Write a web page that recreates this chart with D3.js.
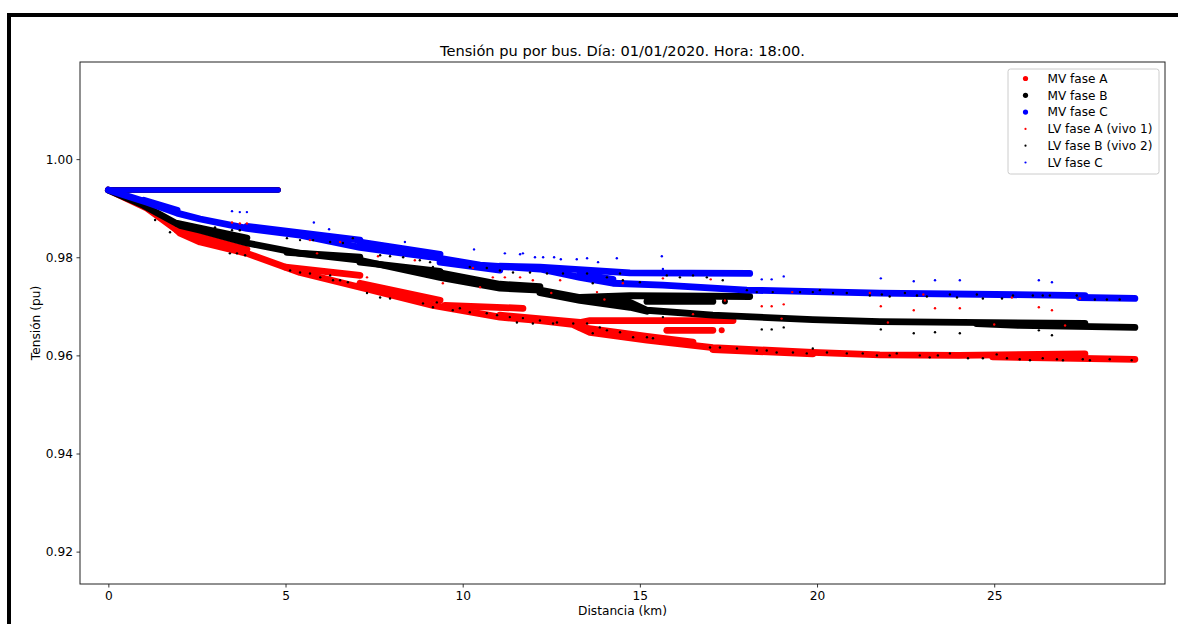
<!DOCTYPE html>
<html>
<head>
<meta charset="utf-8">
<script src="https://cdn.jsdelivr.net/npm/d3@7"></script>
<style>
  body { margin: 0; background: #fff; }
  svg text { font-family: "DejaVu Sans", sans-serif; fill: #000; }
</style>
</head>
<body>
<svg id="grafico" width="1178" height="624"></svg>
<script>
// ramas de la red MV: cada rama es una lista de [km, pu]
var mvFaseA = [
  [[0, 0.99375], [4.79, 0.99375]],
  [[0, 0.9937], [1.09, 0.99], [1.94, 0.9855], [2.02, 0.9849], [2.59, 0.9831], [3.91, 0.9808], [5.41, 0.9769], [7.1, 0.9739], [9.16, 0.9702], [11.05, 0.9678], [12.18, 0.9671], [13.1, 0.9663], [13.59, 0.9647], [15.2, 0.9631], [17.06, 0.9616], [19.88, 0.9606], [21.77, 0.9601], [24.0, 0.96], [27.56, 0.9603]],
  [[24.96, 0.9597], [28.97, 0.9592]],
  [[1.94, 0.9855], [3.91, 0.9816]],
  [[5.0, 0.978], [7.1, 0.9763]],
  [[7.1, 0.9747], [9.36, 0.9712]],
  [[9.5, 0.9702], [11.7, 0.9696]],
  [[11.05, 0.9682], [13.31, 0.9667], [13.59, 0.9671], [17.63, 0.9671]],
  [[13.31, 0.9657], [15.2, 0.9639], [16.5, 0.9627]],
  [[17.06, 0.9612], [19.88, 0.9603]],
  [[15.76, 0.9651], [17.06, 0.9651]]
];
var mvFaseB = [
  [[0, 0.99372], [4.79, 0.99372]],
  [[0, 0.9937], [0.98, 0.9906], [2.02, 0.9865], [2.59, 0.9855], [3.91, 0.9829], [5.41, 0.9808], [7.1, 0.9794], [9.36, 0.9759], [11.05, 0.9737], [12.18, 0.9733], [13.31, 0.9718], [14.72, 0.9708], [15.2, 0.9692], [17.06, 0.9682], [19.88, 0.9673], [21.77, 0.9669], [27.56, 0.9665]],
  [[24.5, 0.9665], [25.72, 0.9661], [28.97, 0.9657]],
  [[1.94, 0.9869], [3.91, 0.9839]],
  [[5.04, 0.981], [7.1, 0.98]],
  [[7.1, 0.979], [9.36, 0.9771]],
  [[9.36, 0.9768], [11.05, 0.9745], [12.18, 0.974]],
  [[12.18, 0.9728], [13.31, 0.9712], [14.72, 0.9698], [15.2, 0.969]],
  [[13.31, 0.9718], [14.72, 0.9722], [18.1, 0.972]],
  [[15.2, 0.971], [17.06, 0.971]]
];
var mvFaseC = [
  [[0, 0.9937], [4.79, 0.9937]],
  [[0, 0.9937], [1.09, 0.9912], [1.94, 0.989], [2.59, 0.9878], [3.91, 0.9859], [5.41, 0.9845], [7.1, 0.982], [9.36, 0.9798], [10.49, 0.9784], [12.18, 0.9776], [13.31, 0.9759], [14.24, 0.9747], [15.65, 0.9743], [18.02, 0.9733], [21.77, 0.9727], [27.56, 0.9722]],
  [[27.4, 0.9718], [28.97, 0.9716]],
  [[1.0, 0.9916], [1.94, 0.9896]],
  [[3.91, 0.9863], [7.1, 0.9835]],
  [[7.1, 0.9831], [9.36, 0.9806]],
  [[9.36, 0.979], [11.05, 0.9774]],
  [[11.05, 0.9782], [12.18, 0.978], [14.72, 0.9768], [18.1, 0.9767]],
  [[13.31, 0.9766], [14.24, 0.9755]]
];
// puntos MV sueltos
var mvSueltosA = [[17.31, 0.9651]];
var mvSueltosB = [[17.4, 0.971]];

// nodos LV
var lvFaseA = [
  [3.49, 0.9871], [3.71, 0.9869], [3.91, 0.9869], [5.69, 0.9835], [6.54, 0.9831], [7.61, 0.9802], [8.65, 0.9794],
  [10.29, 0.9778], [10.85, 0.9759], [11.19, 0.9759], [11.62, 0.9759], [11.98, 0.9753], [12.75, 0.9753], [13.79, 0.9729],
  [14.52, 0.9747], [15.65, 0.9757], [17.0, 0.9755], [19.3, 0.9729], [21.49, 0.9727], [23.0, 0.9724], [25.5, 0.9718], [27.42, 0.9716],
  [5.89, 0.9808], [7.3, 0.9759], [9.44, 0.9747], [10.49, 0.9739], [12.5, 0.9727], [14.0, 0.9714], [16.5, 0.9684],
  [19.0, 0.9675], [22.0, 0.9667], [25.0, 0.9663], [27.0, 0.9661],
  [17.4, 0.9712], [18.44, 0.97], [18.72, 0.97], [19.06, 0.9704], [21.8, 0.97], [22.73, 0.9692], [23.33, 0.9696],
  [24.03, 0.9696], [26.26, 0.9698], [26.63, 0.9692]
];
var lvFaseB = [
  [1.32, 0.9876], [1.74, 0.9851], [3.43, 0.9808], [3.63, 0.9808], [3.86, 0.9804], [5.13, 0.9773], [5.41, 0.9769],
  [5.69, 0.9767], [5.98, 0.9759], [6.26, 0.9763], [6.34, 0.9753], [6.54, 0.9753], [6.76, 0.9749], [7.3, 0.9727],
  [7.67, 0.9718], [7.95, 0.9716], [8.88, 0.9706], [9.16, 0.9698], [9.27, 0.9708], [9.72, 0.9692], [9.92, 0.9696],
  [10.2, 0.9688], [10.68, 0.9686], [10.97, 0.9682], [11.33, 0.9678], [11.53, 0.9667], [11.7, 0.9676], [11.98, 0.9665],
  [12.18, 0.9671], [12.55, 0.9665], [12.66, 0.9667], [13.12, 0.9665], [13.51, 0.9665], [13.67, 0.9645], [13.87, 0.9657],
  [14.07, 0.9651], [14.44, 0.9647], [14.81, 0.9637], [15.2, 0.9637], [15.37, 0.9635], [16.98, 0.9616], [17.26, 0.9616],
  [17.74, 0.9614], [18.3, 0.961], [18.58, 0.961], [18.86, 0.9606], [19.32, 0.9606], [19.71, 0.9604], [19.88, 0.9614],
  [20.28, 0.9606], [20.84, 0.9604], [21.29, 0.9604], [21.69, 0.96], [22.05, 0.96], [22.25, 0.9604], [22.9, 0.96],
  [23.18, 0.9596], [23.41, 0.96], [23.75, 0.9604], [24.26, 0.9594], [24.68, 0.9594], [25.07, 0.9602], [25.36, 0.9594],
  [25.72, 0.9592], [26.01, 0.959], [26.37, 0.9594], [26.77, 0.9592], [26.94, 0.959], [27.5, 0.9592], [27.7, 0.959],
  [28.26, 0.9592], [28.88, 0.959],
  [3.01, 0.9861], [3.49, 0.9855], [3.71, 0.9855], [5.04, 0.9839], [5.41, 0.9835], [5.78, 0.9835], [6.26, 0.9831],
  [6.62, 0.9829], [6.9, 0.9839], [7.67, 0.9804], [7.95, 0.9802], [8.32, 0.98], [8.79, 0.9794], [9.08, 0.979],
  [9.16, 0.978], [10.2, 0.978], [10.68, 0.9778], [11.05, 0.9773], [11.42, 0.9769], [11.9, 0.9769], [12.38, 0.9767],
  [12.83, 0.9767], [13.51, 0.9767], [13.67, 0.9747], [14.07, 0.9759], [14.44, 0.9767], [14.52, 0.9753], [15.0, 0.9749],
  [15.76, 0.9763], [16.13, 0.9759], [16.5, 0.9763], [16.89, 0.9759], [17.34, 0.9753], [18.02, 0.9733], [18.3, 0.9729],
  [18.75, 0.9729], [19.52, 0.9729], [19.88, 0.9729], [20.08, 0.9733], [20.45, 0.9727], [20.84, 0.9727], [21.49, 0.9722],
  [21.83, 0.9724], [22.05, 0.972], [22.48, 0.9727], [22.82, 0.9722], [23.1, 0.972], [23.75, 0.9724], [23.95, 0.9718],
  [24.51, 0.9724], [24.68, 0.9716], [25.22, 0.9716], [25.53, 0.9722], [26.09, 0.9722], [26.37, 0.9722], [26.57, 0.9722],
  [27.33, 0.9722], [27.84, 0.9714], [28.18, 0.9714], [28.54, 0.9714],
  [15.65, 0.9678], [18.44, 0.9653], [18.72, 0.9653], [19.06, 0.9657], [21.8, 0.9653], [22.73, 0.9645], [23.33, 0.9647],
  [24.03, 0.9645], [26.26, 0.9651], [26.63, 0.9641]
];
var lvFaseC = [
  [3.49, 0.9894], [3.71, 0.9892], [3.91, 0.9892], [5.8, 0.9871], [6.23, 0.9857], [8.37, 0.9831], [10.32, 0.9816],
  [11.19, 0.9808], [11.62, 0.9806], [11.7, 0.9808], [12.04, 0.98], [12.27, 0.98], [12.58, 0.98], [12.77, 0.9796],
  [13.22, 0.9796], [13.51, 0.9798], [13.82, 0.979], [14.35, 0.9798], [15.62, 0.9802], [15.65, 0.9776],
  [18.44, 0.9755], [18.72, 0.9755], [19.06, 0.9761], [21.8, 0.9757], [22.73, 0.9751], [23.33, 0.9753],
  [24.03, 0.9753], [26.26, 0.9753], [26.63, 0.9749]
];

var xTicks = [0, 5, 10, 15, 20, 25];
var yTicks = [0.92, 0.94, 0.96, 0.98, 1.0];
var nombres = ["MV fase A", "MV fase B", "MV fase C", "LV fase A (vivo 1)", "LV fase B (vivo 2)", "LV fase C"];
var colores = ["#ff0000", "#000000", "#0000ff", "#ff0000", "#000000", "#0000ff"];

var svg = d3.select("#grafico"),
  pLeft = 80, pRight = 1165, pTop = 62, pBottom = 584;

var x = d3.scaleLinear().domain([-0.8, 29.82]).range([pLeft, pRight]);
var y = d3.scaleLinear().domain([0.9134, 1.0198]).range([pBottom, pTop]);

// marco negro de la ventana
svg.append("path")
  .attr("d", "M9,624 L9,15 L1178,15")
  .attr("fill", "none")
  .attr("stroke", "#000")
  .attr("stroke-width", 4);

svg.append("defs").append("clipPath").attr("id", "zona")
  .append("rect")
  .attr("x", pLeft).attr("y", pTop)
  .attr("width", pRight - pLeft).attr("height", pBottom - pTop);

var plot = svg.append("g").attr("clip-path", "url(#zona)");

var line = d3.line()
  .x(function(d) { return x(d[0]); })
  .y(function(d) { return y(d[1]); });

function ramas(data, color) {
  plot.append("g")
    .selectAll("path")
    .data(data)
    .enter()
    .append("path")
    .attr("d", line)
    .attr("fill", "none")
    .attr("stroke", color)
    .attr("stroke-width", function(d, i) { return i === 0 ? 5.5 : 6.8; })
    .attr("stroke-linecap", "round")
    .attr("stroke-linejoin", "round");
}

function puntos(data, color, r) {
  plot.append("g")
    .selectAll("circle")
    .data(data)
    .enter()
    .append("circle")
    .attr("cx", function(d) { return x(d[0]); })
    .attr("cy", function(d) { return y(d[1]); })
    .attr("r", r)
    .attr("fill", color);
}

ramas(mvFaseA, colores[0]);
puntos(mvSueltosA, colores[0], 3);
ramas(mvFaseB, colores[1]);
puntos(mvSueltosB, colores[1], 3);
ramas(mvFaseC, colores[2]);
puntos(lvFaseA, colores[3], 1.2);
puntos(lvFaseB, colores[4], 1.2);
puntos(lvFaseC, colores[5], 1.2);

// ejes
var xAxis = svg.append("g")
  .attr("transform", "translate(0," + pBottom + ")")
  .call(d3.axisBottom(x).tickValues(xTicks).tickSize(3.5).tickPadding(3.5).tickFormat(d3.format("d")));
var yAxis = svg.append("g")
  .attr("transform", "translate(" + pLeft + ",0)")
  .call(d3.axisLeft(y).tickValues(yTicks).tickSize(3.5).tickPadding(3.5).tickFormat(d3.format(".2f")));

[xAxis, yAxis].forEach(function(a) {
  a.select(".domain").remove();
  a.selectAll("line").attr("stroke", "#000").attr("stroke-width", 0.8);
  a.selectAll("text").style("font-family", "DejaVu Sans").style("font-size", "12.2px").attr("fill", "#000");
});

svg.append("rect")
  .attr("x", pLeft).attr("y", pTop)
  .attr("width", pRight - pLeft).attr("height", pBottom - pTop)
  .attr("fill", "none")
  .attr("stroke", "#222")
  .attr("stroke-width", 1);

svg.append("text")
  .attr("x", (pLeft + pRight) / 2).attr("y", 55.5)
  .attr("text-anchor", "middle")
  .style("font-size", "14.6px")
  .text("Tensión pu por bus. Día: 01/01/2020. Hora: 18:00.");

svg.append("text")
  .attr("x", (pLeft + pRight) / 2).attr("y", 614.5)
  .attr("text-anchor", "middle")
  .style("font-size", "12.2px")
  .text("Distancia (km)");

svg.append("text")
  .attr("transform", "translate(40," + (pTop + pBottom) / 2 + ") rotate(-90)")
  .attr("text-anchor", "middle")
  .style("font-size", "12.2px")
  .text("Tensión (pu)");

// leyenda
var legend = svg.append("g").attr("transform", "translate(1008,69)");
legend.append("rect")
  .attr("width", 151).attr("height", 105)
  .attr("rx", 2.5)
  .attr("fill", "#fff").attr("fill-opacity", 0.8)
  .attr("stroke", "#ccc");

var item = legend.selectAll("g.item")
  .data(nombres)
  .enter()
  .append("g")
  .attr("class", "item")
  .attr("transform", function(d, i) { return "translate(0," + (9.5 + i * 16.8) + ")"; });

item.append("circle")
  .attr("cx", 17.5)
  .attr("r", function(d, i) { return i < 3 ? 2.6 : 1.1; })
  .attr("fill", function(d, i) { return colores[i]; });

item.append("text")
  .attr("x", 39.5)
  .attr("dy", "0.35em")
  .style("font-size", "12.1px")
  .text(function(d) { return d; });
</script>
</body>
</html>
